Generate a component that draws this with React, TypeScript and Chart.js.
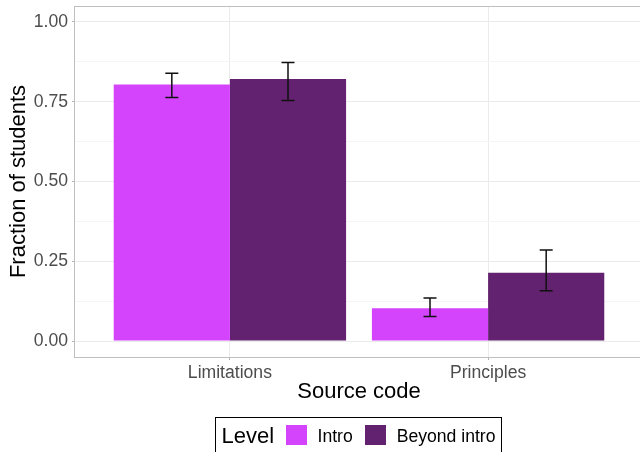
import React, { useEffect, useRef } from "react";
import { Chart, registerables } from "chart.js";

Chart.register(...registerables);

const categories = ["Limitations", "Principles"];
const levels = ["Intro", "Beyond intro"];
const introValues = [0.804, 0.103];
const introLower = [0.763, 0.077];
const introUpper = [0.839, 0.135];
const beyondValues = [0.821, 0.214];
const beyondLower = [0.754, 0.158];
const beyondUpper = [0.873, 0.285];
const yTicks = [0, 0.125, 0.25, 0.375, 0.5, 0.625, 0.75, 0.875, 1.0];
const yMajor = [0, 0.25, 0.5, 0.75, 1.0];
const colors = ["#D444FC", "#632270"];

const FONT = "'Liberation Sans', Arial, Helvetica, sans-serif";

const errorBarPlugin = {
  id: "errorBars",
  afterDatasetsDraw(chart: any) {
    const { ctx } = chart;
    const yScale = chart.scales.y;
    chart.data.datasets.forEach((ds: any, di: number) => {
      const meta = chart.getDatasetMeta(di);
      meta.data.forEach((bar: any, i: number) => {
        const p = bar.getProps(["x", "width"], true);
        const half = p.width * 0.056;
        const yl = yScale.getPixelForValue(ds.errLow[i]);
        const yh = yScale.getPixelForValue(ds.errHigh[i]);
        ctx.save();
        ctx.strokeStyle = "#111111";
        ctx.lineWidth = 1.5;
        ctx.beginPath();
        ctx.moveTo(p.x, yh);
        ctx.lineTo(p.x, yl);
        ctx.moveTo(p.x - half, yh);
        ctx.lineTo(p.x + half, yh);
        ctx.moveTo(p.x - half, yl);
        ctx.lineTo(p.x + half, yl);
        ctx.stroke();
        ctx.restore();
      });
    });
  },
};

const panelBorderPlugin = {
  id: "panelBorder",
  afterDraw(chart: any) {
    const { ctx, chartArea } = chart;
    ctx.save();
    ctx.strokeStyle = "#BFBFBF";
    ctx.lineWidth = 1;
    ctx.strokeRect(
      chartArea.left - 0.5,
      chartArea.top + 0.5,
      chartArea.right - chartArea.left + 1,
      chartArea.bottom - chartArea.top
    );
    ctx.restore();
  },
};

export default function App() {
  const canvasRef = useRef<HTMLCanvasElement | null>(null);

  useEffect(() => {
    if (!canvasRef.current) return;
    const isMajor = (v: number) => yMajor.some((m) => Math.abs(m - v) < 1e-9);
    const chart = new Chart(canvasRef.current, {
      type: "bar",
      data: {
        datasets: [
          {
            label: levels[0],
            data: categories.map((c, i) => ({ x: i + 1, y: introValues[i] })),
            backgroundColor: colors[0],
            borderWidth: 0,
            categoryPercentage: 0.9,
            barPercentage: 1,
            errLow: introLower,
            errHigh: introUpper,
          } as any,
          {
            label: levels[1],
            data: categories.map((c, i) => ({ x: i + 1, y: beyondValues[i] })),
            backgroundColor: colors[1],
            borderWidth: 0,
            categoryPercentage: 0.9,
            barPercentage: 1,
            errLow: beyondLower,
            errHigh: beyondUpper,
          } as any,
        ],
      },
      options: {
        responsive: false,
        animation: false,
        layout: { padding: { left: 0, top: 6, right: 3, bottom: 47 } },
        plugins: { legend: { display: false }, tooltip: { enabled: false } },
        scales: {
          x: {
            type: "linear",
            min: 0.4,
            max: 2.6,
            offset: false,
            afterBuildTicks: (s: any) => {
              s.ticks = categories.map((c, i) => ({ value: i + 1 }));
            },
            afterFit: (s: any) => {
              s.height = 48;
              s.paddingLeft = 0;
              s.paddingRight = 0;
            },
            ticks: {
              autoSkip: false,
              maxRotation: 0,
              padding: 3,
              color: "#4D4D4D",
              font: { family: FONT, size: 17.6 },
              callback: (v: any) => categories[Math.round(Number(v)) - 1] ?? "",
            },
            grid: {
              offset: false,
              color: "#EBEBEB",
              lineWidth: 1,
              tickLength: 3,
              tickColor: "#B3B3B3",
            },
            border: { display: false },
            title: {
              display: true,
              text: "Source code",
              color: "#000000",
              font: { family: FONT, size: 22 },
              padding: { top: 0, bottom: 0 },
            },
          } as any,
          y: {
            type: "linear",
            min: -0.05,
            max: 1.05,
            afterBuildTicks: (s: any) => {
              s.ticks = yTicks.map((v) => ({ value: v }));
            },
            afterFit: (s: any) => {
              s.width = 75;
              s.paddingTop = 0;
              s.paddingBottom = 0;
            },
            ticks: {
              autoSkip: false,
              padding: 4,
              color: "#4D4D4D",
              font: { family: FONT, size: 17.6 },
              callback: (v: any) => (isMajor(Number(v)) ? Number(v).toFixed(2) : ""),
            },
            grid: {
              color: (c: any) => (isMajor(c.tick.value) ? "#EBEBEB" : "#F5F5F5"),
              lineWidth: 1,
              tickLength: 3,
              tickColor: (c: any) => (isMajor(c.tick.value) ? "#B3B3B3" : "rgba(0,0,0,0)"),
            },
            border: { display: false },
            title: {
              display: true,
              text: "Fraction of students",
              color: "#000000",
              font: { family: FONT, size: 22 },
              padding: { top: 5.4, bottom: 0 },
            },
          } as any,
        },
      },
      plugins: [errorBarPlugin, panelBorderPlugin],
    });
    return () => chart.destroy();
  }, []);

  const textBase: React.CSSProperties = {
    position: "absolute",
    fontFamily: FONT,
    whiteSpace: "nowrap",
    color: "#000000",
  };

  return (
    <div
      style={{
        position: "fixed",
        left: 0,
        top: 0,
        width: 640,
        height: 452,
        overflow: "hidden",
        background: "#FFFFFF",
      }}
    >
      <canvas ref={canvasRef} width={646} height={452} style={{ display: "block" }} />
      <div
        style={{
          position: "absolute",
          left: 215,
          top: 417,
          width: 287,
          height: 46,
          border: "1px solid #000000",
          boxSizing: "border-box",
        }}
      />
      <div style={{ ...textBase, left: 221.5, top: 425.4, fontSize: 22, lineHeight: "22px" }}>Level</div>
      <div style={{ position: "absolute", left: 286, top: 425, width: 21, height: 20, background: colors[0] }} />
      <div style={{ ...textBase, left: 317.5, top: 428, fontSize: 17.6, lineHeight: "17.6px" }}>{levels[0]}</div>
      <div style={{ position: "absolute", left: 365, top: 425, width: 21, height: 20, background: colors[1] }} />
      <div style={{ ...textBase, left: 396.7, top: 428, fontSize: 17.6, lineHeight: "17.6px" }}>{levels[1]}</div>
    </div>
  );
}
